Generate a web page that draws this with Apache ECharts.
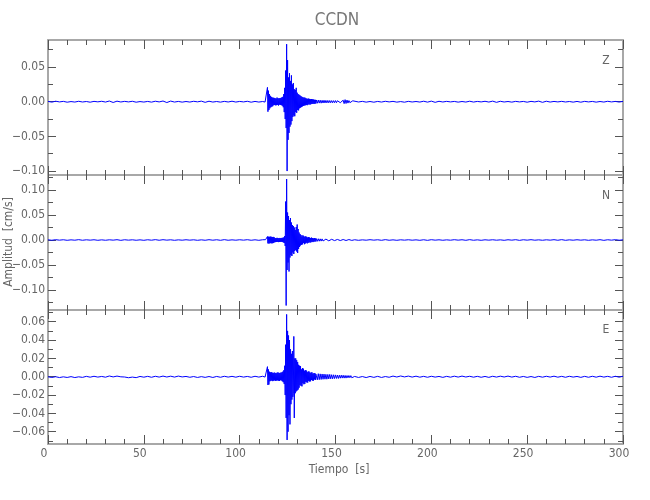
<!DOCTYPE html>
<html><head><meta charset="utf-8">
<script src="https://cdn.jsdelivr.net/npm/echarts@6/dist/echarts.min.js"></script>
<style>html,body{margin:0;padding:0;background:#fff}#c{width:650px;height:500px}</style>
</head><body><div id="c"></div>
<script>
// ---------------- DATA ----------------
const chartTitle = 'CCDN';
const componentNames = ['Z', 'N', 'E'];
const yAxisTitle = 'Amplitud  [cm/s]';
const xAxisTitle = 'Tiempo  [s]';

// sampling of the traces (seconds)
const preStart = 0, preStep = 2;          // quiet part before the event
const eventStart = 113, eventStep = 0.25; // main event
const tailStart = 140, tailStep = 0.5;    // coda
const postStart = 160, postStep = 2;      // quiet part after

// x axis
const timeMin = 0, timeMax = 300, timeTickStep = 50;

// y ranges and tick labels per component
const zRange = [-0.1057, 0.089];
const nRange = [-0.140, 0.130];
const eRange = [-0.0734, 0.0728];
const zMajorTicks = [-0.10, -0.05, 0.00, 0.05];
const zMinorTicks = [-0.075, -0.025, 0.025, 0.075];
const nMajorTicks = [-0.10, -0.05, 0.00, 0.05, 0.10];
const nMinorTicks = [-0.125, -0.075, -0.025, 0.025, 0.075, 0.125];
const eMajorTicks = [-0.06, -0.04, -0.02, 0.00, 0.02, 0.04, 0.06];
const eMinorTicks = [-0.07, -0.05, -0.03, -0.01, 0.01, 0.03, 0.05, 0.07];

// ---- Z component [cm/s]
const zPre = [0.0004,-0.0006,0.0007,-0.0003,0.0005,-0.0007,0.0002,-0.0005,0.0006,-0.0004,
0.0003,-0.0007,0.0005,-0.0002,0.0006,-0.0005,0.0010,-0.0011,0.0008,-0.0004,
0.0005,-0.0003,0.0006,-0.0007,0.0002,-0.0005,0.0004,-0.0006,0.0007,-0.0003,
0.0010,-0.0012,0.0009,-0.0005,0.0004,-0.0006,0.0003,-0.0005,0.0006,-0.0002,
0.0008,-0.0009,0.0007,-0.0005,0.0003,-0.0006,0.0005,-0.0004,0.0007,-0.0005,
0.0004,-0.0003,0.0006,-0.0007,0.0004,-0.0005,0.0003];
const zEvent = [0.0006,-0.0005,0.0007,-0.0004,0.0006,-0.0005,
0.0207,-0.0144,0.0160,-0.0120,0.0110,-0.0095,0.0085,-0.0080,0.0070,-0.0072,
0.0060,-0.0065,0.0058,-0.0050,0.0055,-0.0048,0.0050,-0.0052,0.0045,-0.0050,
0.0060,-0.0045,0.0050,-0.0055,0.0048,-0.0042,0.0052,-0.0046,0.0055,-0.0050,
0.0062,-0.0058,0.0070,-0.0080,0.0110,-0.0150,0.0200,-0.0250,0.0450,-0.0380,
0.0830,-0.1000,0.0600,-0.0550,0.0350,-0.0450,0.0410,-0.0360,0.0300,-0.0330,
0.0380,-0.0280,0.0250,-0.0220,0.0270,-0.0200,0.0180,-0.0210,0.0170,-0.0150,
0.0200,-0.0160,0.0130,-0.0120,0.0110,-0.0125,0.0100,-0.0095,0.0090,-0.0085,
0.0080,-0.0078,0.0070,-0.0068,0.0065,-0.0060,0.0058,-0.0055,0.0060,-0.0052,
0.0050,-0.0048,0.0045,-0.0050,0.0042,-0.0040,0.0045,-0.0038,0.0040,-0.0042,
0.0036,-0.0035,0.0038,-0.0032,0.0034,-0.0030,0.0032,-0.0030,0.0028,-0.0030,
0.0027,-0.0025];
const zTail = [0.0025,-0.0022,0.0024,-0.0020,0.0022,-0.0021,0.0020,-0.0019,0.0021,-0.0018,
0.0019,-0.0017,0.0018,-0.0016,0.0017,-0.0015,0.0016,-0.0015,0.0015,-0.0014,
0.0016,-0.0015,0.0014,-0.0013,0.0015,-0.0014,0.0013,-0.0014,0.0022,-0.0028,
0.0030,-0.0026,0.0024,-0.0020,0.0016,-0.0014,0.0013,-0.0012,0.0013,-0.0011];
const zPost = [0.0006,-0.0004,0.0005,-0.0006,0.0003,-0.0007,0.0004,-0.0005,0.0006,-0.0003,
0.0005,-0.0006,0.0002,-0.0007,0.0005,-0.0004,0.0003,-0.0005,0.0007,-0.0006,
0.0008,-0.0009,0.0006,-0.0004,0.0005,-0.0003,0.0004,-0.0006,0.0003,-0.0005,
0.0007,-0.0005,0.0004,-0.0003,0.0006,-0.0005,0.0008,-0.0009,0.0006,-0.0004,
0.0003,-0.0006,0.0005,-0.0003,0.0004,-0.0007,0.0005,-0.0003,0.0008,-0.0009,
0.0007,-0.0005,0.0004,-0.0003,0.0005,-0.0004,0.0003,-0.0006,0.0004,-0.0007,
0.0005,-0.0003,0.0004,-0.0006,0.0003,-0.0005,0.0006,-0.0003,0.0004,-0.0005,
0.0004];

// ---- N component [cm/s]
const nPre = [0.0004,-0.0005,0.0006,-0.0003,0.0005,-0.0006,0.0003,-0.0004,0.0007,-0.0005,
0.0004,-0.0003,0.0005,-0.0006,0.0003,-0.0005,0.0004,-0.0003,0.0006,-0.0007,
0.0005,-0.0003,0.0004,-0.0005,0.0003,-0.0006,0.0005,-0.0004,0.0007,-0.0005,
0.0006,-0.0003,0.0004,-0.0006,0.0003,-0.0004,0.0005,-0.0003,0.0004,-0.0006,
0.0003,-0.0005,0.0006,-0.0004,0.0005,-0.0006,0.0007,-0.0005,0.0003,-0.0004,
0.0005,-0.0003,0.0006,-0.0005,0.0004,-0.0006,0.0005];
const nEvent = [0.0005,-0.0004,0.0006,-0.0005,0.0004,-0.0006,
0.0070,-0.0068,0.0066,-0.0070,0.0064,-0.0066,0.0068,-0.0062,0.0065,-0.0067,0.0060,-0.0064,0.0062,-0.0058,0.0055,
-0.0045,0.0040,-0.0042,0.0038,-0.0040,0.0044,-0.0036,0.0040,-0.0042,0.0035,-0.0038,0.0041,-0.0037,0.0039,-0.0036,0.0042,-0.0040,0.0045,-0.0048,0.0052,-0.0060,
0.0080,-0.0120,
0.0770,-0.1310,0.1220,-0.0600,0.0550,-0.0450,0.0480,-0.0630,0.0400,-0.0350,0.0440,-0.0300,0.0350,-0.0320,0.0300,-0.0250,0.0280,-0.0280,0.0250,-0.0220,0.0200,-0.0200,0.0260,-0.0230,0.0310,-0.0260,0.0220,-0.0180,0.0150,-0.0140,0.0120,-0.0110,0.0100,
-0.0095,0.0070,-0.0088,0.0095,-0.0060,0.0078,-0.0085,0.0062,-0.0070,0.0075,-0.0055,0.0062,-0.0068,0.0050,-0.0056,0.0060,-0.0045,0.0050,-0.0052,0.0040,-0.0045,0.0048,-0.0036,0.0040,-0.0042,0.0032,-0.0035,0.0038,-0.0028,0.0032,-0.0030];
const nTail = [0.0028,-0.0026,0.0025,-0.0024,0.0023,-0.0022,0.0022,-0.0020,0.0019,-0.0020,
0.0018,-0.0017,0.0017,-0.0016,0.0015,-0.0016,0.0014,-0.0013,0.0014,-0.0012,
0.0013,-0.0012,0.0011,-0.0012,0.0010,-0.0011,0.0010,-0.0009,0.0010,-0.0009,
0.0009,-0.0010,0.0008,-0.0009,0.0009,-0.0008,0.0009,-0.0008,0.0008,-0.0009];
const nPost = [0.0005,-0.0006,0.0003,-0.0004,0.0006,-0.0003,0.0005,-0.0006,0.0007,-0.0005,
0.0003,-0.0006,0.0004,-0.0003,0.0005,-0.0004,0.0003,-0.0006,0.0005,-0.0007,
0.0006,-0.0003,0.0004,-0.0005,0.0003,-0.0004,0.0006,-0.0003,0.0005,-0.0006,
0.0007,-0.0005,0.0003,-0.0006,0.0004,-0.0003,0.0005,-0.0004,0.0003,-0.0006,
0.0005,-0.0003,0.0006,-0.0007,0.0005,-0.0003,0.0006,-0.0004,0.0003,-0.0005,
0.0004,-0.0003,0.0006,-0.0005,0.0007,-0.0006,0.0003,-0.0004,0.0005,-0.0003,
0.0004,-0.0006,0.0003,-0.0004,0.0006,-0.0007,0.0005,-0.0003,0.0006,-0.0004,
0.0003];

// ---- E component [cm/s]
const ePre = [-0.0001,-0.0008,0.0000,-0.0009,-0.0001,-0.0008,0.0001,-0.0009,-0.0001,-0.0007,
0.0004,-0.0005,0.0005,-0.0004,0.0003,-0.0005,0.0008,-0.0002,0.0007,-0.0001,
-0.0003,-0.0011,-0.0004,-0.0010,0.0003,-0.0005,0.0004,-0.0006,0.0005,-0.0004,
0.0007,-0.0003,0.0006,-0.0004,0.0007,-0.0002,0.0003,-0.0006,0.0002,-0.0008,
0.0001,-0.0007,0.0002,-0.0008,0.0003,-0.0006,0.0005,-0.0004,0.0004,-0.0005,
0.0005,-0.0004,0.0003,-0.0006,0.0005,-0.0004,0.0005];
const eEvent = [0.0005,-0.0004,0.0005,-0.0006,0.0004,-0.0005,
0.0110,-0.0090,0.0080,-0.0085,
0.0055,-0.0050,0.0048,-0.0045,0.0050,-0.0042,0.0045,-0.0048,0.0040,-0.0044,0.0046,-0.0040,0.0042,-0.0045,0.0038,-0.0042,0.0044,-0.0040,0.0048,-0.0043,0.0040,-0.0046,0.0042,-0.0038,0.0045,-0.0041,0.0047,-0.0050,0.0055,-0.0060,0.0070,
-0.0080,0.0120,-0.0200,
0.0350,-0.0450,0.0680,-0.0690,0.0500,-0.0600,0.0450,-0.0420,0.0400,-0.0520,0.0300,-0.0300,0.0250,-0.0250,0.0280,-0.0220,-0.0180,0.0440,-0.0450,0.0200,-0.0180,0.0200,-0.0160,0.0180,-0.0150,0.0160,-0.0140,0.0130,-0.0120,
0.0120,-0.0090,0.0115,-0.0100,0.0080,-0.0105,0.0095,-0.0070,0.0088,-0.0082,0.0065,-0.0078,0.0072,-0.0055,0.0068,-0.0062,0.0050,-0.0064,0.0058,-0.0045,0.0056,-0.0052,0.0040,-0.0050,0.0048,-0.0036,0.0047,-0.0042,0.0032,-0.0043,0.0040,-0.0030,0.0039,-0.0035,0.0030];
const eTail = [0.0036,-0.0034,0.0033,-0.0032,0.0031,-0.0030,0.0030,-0.0028,0.0029,-0.0027,
0.0026,-0.0027,0.0025,-0.0024,0.0025,-0.0023,0.0022,-0.0023,0.0021,-0.0020,
0.0020,-0.0019,0.0018,-0.0019,0.0017,-0.0016,0.0017,-0.0015,0.0016,-0.0015,
0.0014,-0.0015,0.0013,-0.0012,0.0013,-0.0011,0.0012,-0.0011,0.0010,-0.0011];
const ePost = [0.0003,-0.0008,0.0002,-0.0009,0.0003,-0.0007,0.0004,-0.0008,0.0002,-0.0006,
0.0007,-0.0003,0.0008,-0.0002,0.0007,-0.0004,0.0006,-0.0005,0.0004,-0.0006,
0.0005,-0.0004,0.0003,-0.0007,0.0004,-0.0005,0.0006,-0.0004,0.0007,-0.0003,
0.0005,-0.0005,0.0004,-0.0006,0.0003,-0.0007,0.0005,-0.0004,0.0006,-0.0003,
0.0007,-0.0004,0.0005,-0.0006,0.0003,-0.0007,0.0002,-0.0008,0.0004,-0.0005,
0.0005,-0.0004,0.0006,-0.0005,0.0004,-0.0006,0.0005,-0.0004,0.0003,-0.0007,
0.0004,-0.0006,0.0005,-0.0005,0.0006,-0.0004,0.0004,-0.0006,0.0005,-0.0005,
0.0005];

// ---------------- BUILD ----------------
function buildTrace(pre, ev, tail, post) {
  const out = [];
  pre.forEach((v, i) => out.push([preStart + i * preStep, v]));
  ev.forEach((v, i) => out.push([eventStart + i * eventStep, v]));
  tail.forEach((v, i) => out.push([tailStart + i * tailStep, v]));
  post.forEach((v, i) => out.push([postStart + i * postStep, v]));
  return out;
}
const traces = [
  buildTrace(zPre, zEvent, zTail, zPost),
  buildTrace(nPre, nEvent, nTail, nPost),
  buildTrace(ePre, eEvent, eTail, ePost)
];
const ranges = [zRange, nRange, eRange];
const majors = [zMajorTicks, nMajorTicks, eMajorTicks];
const minors = [zMinorTicks, nMinorTicks, eMinorTicks];

const FONT = "'Liberation Sans Narrow', 'DejaVu Sans Condensed', 'Roboto Condensed', Roboto, sans-serif";
const AXIS_COLOR = '#a8a8a8';
const TICK_COLOR = '#555555';
const TEXT_COLOR = '#666666';
const layout = [ {top: 40, height: 135}, {top: 175, height: 135}, {top: 310, height: 134} ];

const fmtY = v => (v < 0 ? '\u2212' : '') + Math.abs(v).toFixed(2);

const grid = layout.map(l => ({left: 48, right: 27, top: l.top, height: l.height, containLabel: false}));
const xAxis = [], yAxis = [], series = [];
layout.forEach((l, g) => {
  ['bottom', 'top'].forEach(pos => {
    xAxis.push({
      type: 'value', gridIndex: g, position: pos, min: timeMin, max: timeMax, interval: timeTickStep,
      axisLine: {show: true, onZero: false, lineStyle: {color: AXIS_COLOR, width: 2}},
      axisTick: {show: true, inside: true, length: 9, lineStyle: {color: TICK_COLOR, width: 1}},
      minorTick: {show: true, splitNumber: 5, length: 5, lineStyle: {color: TICK_COLOR, width: 1}},
      axisLabel: {show: pos === 'bottom' && g === 2, margin: 4, color: TEXT_COLOR, fontSize: 12, fontFamily: FONT, padding: [0, 8, 0, 0]},
      splitLine: {show: false}
    });
  });
  const [mn, mx] = ranges[g];
  const base = {type: 'value', gridIndex: g, min: mn, max: mx, splitLine: {show: false}};
  // left major (labels)
  yAxis.push(Object.assign({}, base, {
    position: 'left',
    axisLine: {show: true, onZero: false, lineStyle: {color: AXIS_COLOR, width: 2}},
    axisTick: {show: true, inside: true, length: 8, customValues: majors[g], lineStyle: {color: TICK_COLOR}},
    axisLabel: {show: true, customValues: majors[g], formatter: fmtY, margin: 3, color: TEXT_COLOR, fontSize: 12, fontFamily: FONT}
  }));
  // right major
  yAxis.push(Object.assign({}, base, {
    position: 'right',
    axisLine: {show: true, onZero: false, lineStyle: {color: AXIS_COLOR, width: 2}},
    axisTick: {show: true, inside: true, length: 8, customValues: majors[g], lineStyle: {color: TICK_COLOR}},
    axisLabel: {show: false}
  }));
  // minor ticks (positions flip: 'right' -> left side, 'left' -> right side)
  yAxis.push(Object.assign({}, base, {
    position: 'right',
    axisLine: {show: false, onZero: false},
    axisTick: {show: true, inside: true, length: 5, customValues: minors[g], lineStyle: {color: TICK_COLOR}},
    axisLabel: {show: false}
  }));
  yAxis.push(Object.assign({}, base, {
    position: 'left',
    axisLine: {show: false, onZero: false},
    axisTick: {show: true, inside: true, length: 5, customValues: minors[g], lineStyle: {color: TICK_COLOR}},
    axisLabel: {show: false}
  }));
  series.push({
    type: 'line', name: componentNames[g], xAxisIndex: g * 2, yAxisIndex: g * 4,
    data: traces[g], symbol: 'none', showSymbol: false, sampling: null, clip: true,
    lineStyle: {color: '#0000ff', width: 1}, silent: true, z: 3
  });
});

const graphic = [
  {type: 'text', x: 337, y: 21, style: {text: chartTitle, fill: '#777', font: "17px " + FONT, textAlign: 'center', textVerticalAlign: 'middle'}},
  {type: 'text', x: 339, y: 470, style: {text: xAxisTitle, fill: TEXT_COLOR, font: "12px " + FONT, textAlign: 'center', textVerticalAlign: 'middle'}},
  {type: 'text', x: 9, y: 242, rotation: Math.PI / 2, style: {text: yAxisTitle, fill: TEXT_COLOR, font: "12px " + FONT, textAlign: 'center', textVerticalAlign: 'middle'}}
];
const labelY = [61, 196, 330];
componentNames.forEach((n, i) => graphic.push({type: 'text', x: 606, y: labelY[i], style: {text: n, fill: TEXT_COLOR, font: "12px " + FONT, textAlign: 'center', textVerticalAlign: 'middle'}}));

const chart = echarts.init(document.getElementById('c'), null, {renderer: 'canvas'});
chart.setOption({animation: false, backgroundColor: '#fff', grid, xAxis, yAxis, series, graphic});
</script></body></html>
